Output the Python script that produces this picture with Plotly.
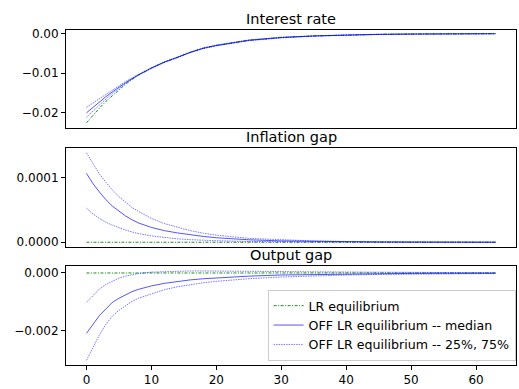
import plotly.graph_objects as go

periods = [0, 1, 2, 3, 4, 5, 6, 7, 8, 10, 12, 14, 16, 18, 20, 25, 30, 35, 40, 45, 50, 55, 63]

# Interest rate
ir_lr = [-0.0225, -0.0206, -0.0188, -0.0171, -0.0156, -0.0141, -0.0128, -0.0116, -0.0105, -0.0087, -0.0072,
         -0.0060, -0.0047, -0.0037, -0.0030, -0.0017, -0.0010, -0.0006, -0.00035, -0.0002, -0.00012, -0.00007, -0.00003]
ir_med = [-0.0200, -0.0186, -0.0172, -0.0159, -0.0147, -0.0135, -0.0124, -0.0114, -0.0104, -0.0087, -0.0072,
          -0.0060, -0.0047, -0.0037, -0.0030, -0.0017, -0.0010, -0.0006, -0.00035, -0.0002, -0.00012, -0.00007, -0.00003]
ir_q75 = [-0.0186, -0.0175, -0.0163, -0.0152, -0.0141, -0.0131, -0.0121, -0.0112, -0.0103, -0.0086, -0.0071,
          -0.0059, -0.0046, -0.0036, -0.0029, -0.0016, -0.0009, -0.00055, -0.0003, -0.00018, -0.0001, -0.00006, -0.00002]
ir_q25 = [-0.0211, -0.0195, -0.0179, -0.0165, -0.0151, -0.0138, -0.0126, -0.0115, -0.0105, -0.0088, -0.0073,
          -0.0061, -0.0048, -0.0038, -0.0031, -0.0018, -0.0011, -0.00065, -0.0004, -0.00024, -0.00014, -0.00008, -0.00004]

# Inflation gap
pi_lr = [0.0] * 23
pi_med = [1.07e-4, 9.1e-5, 7.8e-5, 6.6e-5, 5.6e-5, 4.8e-5, 4.1e-5, 3.5e-5, 3.0e-5, 2.3e-5, 1.8e-5,
          1.45e-5, 1.15e-5, 9e-6, 7e-6, 3.8e-6, 2.1e-6, 1.2e-6, 7e-7, 4e-7, 2.3e-7, 1.3e-7, 5e-8]
pi_q75 = [1.39e-4, 1.22e-4, 1.06e-4, 9.3e-5, 8.1e-5, 7.1e-5, 6.2e-5, 5.4e-5, 4.8e-5, 3.7e-5, 2.9e-5,
          2.3e-5, 1.8e-5, 1.4e-5, 1.1e-5, 6e-6, 3.5e-6, 2e-6, 1.2e-6, 7e-7, 4e-7, 2.5e-7, 1e-7]
pi_q25 = [5.3e-5, 4.4e-5, 3.7e-5, 3.1e-5, 2.65e-5, 2.25e-5, 1.9e-5, 1.6e-5, 1.35e-5, 9.8e-6, 7.2e-6,
          5.3e-6, 4e-6, 3e-6, 2.3e-6, 1.2e-6, 6e-7, 3e-7, 1.6e-7, 8e-8, 4e-8, 2e-8, 1e-8]

# Output gap
y_lr = [0.0] * 23
y_med = [-0.00210, -0.00178, -0.00148, -0.00125, -0.00102, -0.00088, -0.00075, -0.00065, -0.00057, -0.00045, -0.00036,
         -0.00029, -0.00024, -0.0002, -0.00017, -0.00011, -0.00007, -0.00005, -0.00003, -0.00002, -0.000015, -0.00001, -0.000005]
y_q75 = [-0.00102, -0.00078, -0.00056, -0.0004, -0.00028, -0.00018, -0.00011, -0.00006, -0.00002, 0.00003, 0.00005,
         0.00006, 0.00007, 0.00007, 0.00007, 0.00006, 0.00005, 0.00004, 0.00003, 0.00002, 0.000015, 0.00001, 0.000005]
y_q25 = [-0.00304, -0.0026, -0.00215, -0.00178, -0.0015, -0.0013, -0.00113, -0.00099, -0.00088, -0.00072, -0.00058,
         -0.00048, -0.0004, -0.00034, -0.00029, -0.0002, -0.00014, -0.0001, -0.00007, -0.00005, -0.00004, -0.00003, -0.00002]

titles = ["Interest rate", "Inflation gap", "Output gap"]
panels = [
    (ir_lr, ir_med, ir_q25, ir_q75),
    (pi_lr, pi_med, pi_q25, pi_q75),
    (y_lr, y_med, y_q25, y_q75),
]
ytickvals = [[0.0, -0.01, -0.02], [0.0, 0.0001], [0.0, -0.002]]
yticktext = [["0.00", "\u22120.01", "\u22120.02"], ["0.0000", "0.0001"], ["0.000", "\u22120.002"]]
yranges = [[-0.0237, 0.0009], [-0.000007, 0.000146], [-0.0032, 0.00026]]
xticks = [0, 10, 20, 30, 40, 50, 60]

green = "#008000"
blue_med = "rgba(0,0,255,0.75)"
blue_q = "rgba(0,0,255,0.6)"

fig = go.Figure()
for i, (lr, med, q25, q75) in enumerate(panels):
    xa = "x" if i == 0 else f"x{i+1}"
    ya = "y" if i == 0 else f"y{i+1}"
    show = i == 0
    fig.add_trace(go.Scatter(x=periods, y=lr, mode="lines", name="LR equilibrium",
                             line=dict(color=green, width=0.9, dash="3px,1.5px,1px,1.5px"),
                             xaxis=xa, yaxis=ya, showlegend=show, legendgroup="lr"))
    fig.add_trace(go.Scatter(x=periods, y=med, mode="lines", name="OFF LR equilibrium -- median",
                             line=dict(color=blue_med, width=0.9),
                             xaxis=xa, yaxis=ya, showlegend=show, legendgroup="med"))
    fig.add_trace(go.Scatter(x=periods, y=q25, mode="lines", name="OFF LR equilibrium -- 25%, 75%",
                             line=dict(color=blue_q, width=0.9, dash="1.5px,1px"),
                             xaxis=xa, yaxis=ya, showlegend=show, legendgroup="q"))
    fig.add_trace(go.Scatter(x=periods, y=q75, mode="lines", name="OFF LR equilibrium -- 25%, 75%",
                             line=dict(color=blue_q, width=0.9, dash="1.5px,1px"),
                             xaxis=xa, yaxis=ya, showlegend=False, legendgroup="q"))

domains = [[0.7088, 1.0], [0.353, 0.647], [0.0, 0.297]]
font_family = "DejaVu Sans"
layout = dict(
    width=519, height=389,
    margin=dict(l=66, r=2, t=30, b=19),
    paper_bgcolor="white", plot_bgcolor="white",
    font=dict(family=font_family, size=12, color="#000000"),
    legend=dict(x=0.448, y=0.012, xanchor="left", yanchor="bottom",
                bgcolor="rgba(255,255,255,0.85)", bordercolor="#cccccc", borderwidth=1,
                font=dict(size=12.6, family=font_family), tracegroupgap=0, itemwidth=30),
)
for i in range(3):
    xk = "xaxis" if i == 0 else f"xaxis{i+1}"
    yk = "yaxis" if i == 0 else f"yaxis{i+1}"
    ya = "y" if i == 0 else f"y{i+1}"
    xa = "x" if i == 0 else f"x{i+1}"
    last = i == 2
    layout[xk] = dict(domain=[0, 1], anchor=ya, range=[-3.15, 66.15],
                      showline=True, mirror=True, linecolor="black", linewidth=1,
                      showgrid=False, zeroline=False,
                      tickvals=xticks if last else [], showticklabels=last,
                      ticks="outside" if last else "", ticklen=4, tickcolor="black",
                      tickfont=dict(size=12, family=font_family))
    layout[yk] = dict(domain=domains[i], anchor=xa, range=yranges[i],
                      showline=True, mirror=True, linecolor="black", linewidth=1,
                      showgrid=False, zeroline=False,
                      tickvals=ytickvals[i], ticktext=yticktext[i],
                      ticks="outside", ticklen=4, tickcolor="black",
                      tickfont=dict(size=12, family=font_family))
fig.update_layout(**layout)

for i, t in enumerate(titles):
    fig.add_annotation(text=t, x=0.5, xref="paper", y=domains[i][1], yref="paper",
                       xanchor="center", yanchor="bottom", yshift=1, showarrow=False,
                       font=dict(size=14.5, family=font_family, color="black"))

fig.write_html("out.html")
